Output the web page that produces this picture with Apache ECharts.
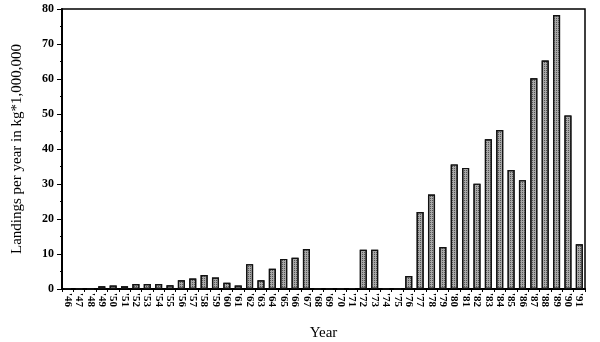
<!DOCTYPE html>
<html><head><meta charset="utf-8">
<script src="https://cdn.jsdelivr.net/npm/echarts@6/dist/echarts.min.js"></script>
<style>html,body{margin:0;padding:0;background:#fff}#c{width:600px;height:342px}</style>
</head><body><div id="c"></div>
<script>
const years = ["'46","'47","'48","'49","'50","'51","'52","'53","'54","'55","'56","'57","'58","'59","'60","'61","'62","'63","'64","'65","'66","'67","'68","'69","'70","'71","'72","'73","'74","'75","'76","'77","'78","'79","'80","'81","'82","'83","'84","'85","'86","'87","'88","'89","'90","'91"];
const landings = [0.2,0.1,0,0.8,1.0,0.8,1.45,1.45,1.4,1.05,2.5,3.0,4.0,3.3,1.8,1.0,7.1,2.5,5.8,8.6,8.9,11.4,0,0,0.1,0.3,11.2,11.2,0.1,0,3.7,22.0,27.0,12.0,35.6,34.6,30.1,42.8,45.4,34.0,31.1,60.2,65.3,78.3,49.6,12.8];
const yTicks = [0,10,20,30,40,50,60,70,80];

const chart = echarts.init(document.getElementById('c'), null, {renderer:'canvas'});
const serif = '"Liberation Serif","DejaVu Serif",serif';
chart.setOption({
  animation:false,
  backgroundColor:'#fff',
  grid:{left:62,right:15,top:9,bottom:53,show:true,borderColor:'#000',borderWidth:1.5,containLabel:false,outerBoundsMode:'none'},
  xAxis:{
    type:'category', data:years, name:'Year', nameLocation:'middle', nameGap:37,
    nameTextStyle:{fontFamily:serif,fontSize:15,color:'#000'},
    axisLine:{lineStyle:{color:'#000',width:2}},
    axisTick:{show:true,length:3,lineStyle:{color:'#000'}},
    axisLabel:{rotate:-90,interval:0,fontFamily:serif,fontSize:11,fontWeight:'bold',color:'#000',margin:4}
  },
  yAxis:{
    type:'value', min:yTicks[0], max:yTicks[yTicks.length-1], interval:10,
    name:'Landings per year in kg*1,000,000', nameLocation:'middle', nameGap:37,
    nameTextStyle:{fontFamily:serif,fontSize:15,color:'#000'},
    axisLine:{show:true,lineStyle:{color:'#000',width:2}},
    axisTick:{show:true,length:5,lineStyle:{color:'#000'}},
    minorTick:{show:true,splitNumber:2,length:2,lineStyle:{color:'#000'}},
    splitLine:{show:false},
    axisLabel:{fontFamily:serif,fontSize:12,fontWeight:'bold',color:'#000',margin:8}
  },
  series:[{
    type:'bar', data:landings, barCategoryGap:'38%',
    itemStyle:{color:'#a8a8a8',borderColor:'#111',borderWidth:1.2,
      decal:{symbol:'rect',symbolSize:1,dashArrayX:[1,1],dashArrayY:[1,1],color:'#555',rotation:0}}
  }]
});
</script></body></html>
